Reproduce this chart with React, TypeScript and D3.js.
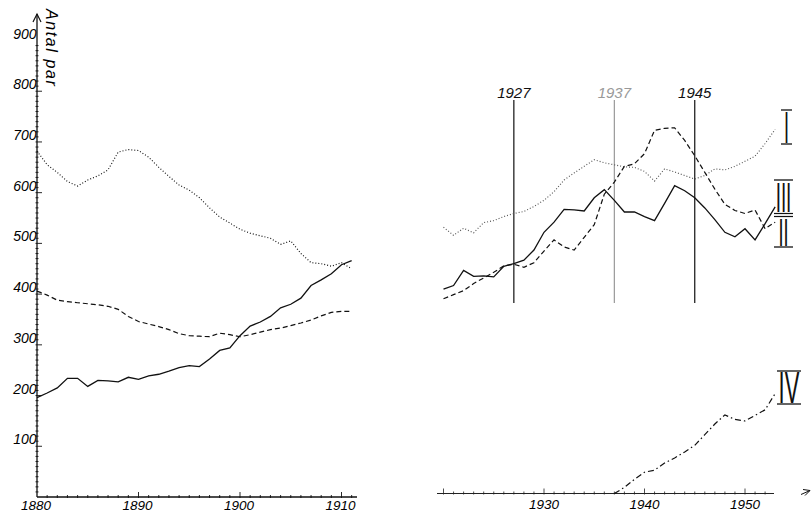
import React from "react";
import * as d3 from "d3";

const W = 811;
const H = 512;

// Left panel (1880–1911)
const leftYears = d3.range(1880, 1912);
const leftI = [682, 655, 640, 622, 613, 625, 633, 645, 680, 685, 683, 670, 650, 632, 615, 605, 590, 570, 552, 540, 528, 520, 515, 510, 498, 505, 480, 462, 460, 455, 462, 450];
const leftII = [196, 205, 215, 234, 234, 218, 230, 229, 227, 236, 232, 239, 242, 248, 255, 259, 257, 272, 289, 294, 318, 337, 345, 356, 373, 380, 392, 417, 428, 440, 458, 466];
const leftIII = [406, 398, 388, 385, 383, 381, 379, 376, 370, 356, 346, 341, 336, 330, 322, 318, 317, 316, 323, 320, 316, 320, 325, 330, 333, 338, 343, 349, 357, 364, 366, 366];

// Right panel (1920–1953)
const rightYears = d3.range(1920, 1954);
const rightI = [525, 509, 523, 514, 534, 538, 546, 552, 556, 566, 578, 595, 618, 632, 645, 658, 652, 648, 644, 643, 635, 616, 640, 634, 627, 620, 627, 640, 638, 645, 655, 665, 690, 718];
const rightII = [403, 410, 440, 428, 429, 427, 448, 453, 460, 480, 515, 535, 560, 559, 557, 583, 599, 578, 555, 555, 546, 538, 572, 607, 597, 583, 563, 540, 515, 506, 522, 500, 532, 565];
const rightIII = [384, 392, 400, 414, 425, 436, 449, 452, 446, 455, 478, 500, 486, 480, 505, 530, 590, 614, 645, 650, 670, 716, 720, 721, 696, 666, 633, 600, 570, 558, 552, 559, 522, 535];
const ivYears = d3.range(1937, 1954);
const rightIV = [0, 12, 28, 42, 46, 60, 70, 82, 95, 116, 137, 155, 146, 143, 154, 165, 197];

const yTicks = [100, 200, 300, 400, 500, 600, 700, 800, 900];
const leftXTicks = [1880, 1890, 1900, 1910];
const rightXTicks = [1930, 1940, 1950];
const markerYears = [1927, 1937, 1945];
const yTitle = "Antal par";

const xL = d3.scaleLinear().domain([1880, 1910]).range([37, 341.5]);
const yL = d3.scaleLinear().domain([0, 900]).range([497, 40.5]);
const xR = d3.scaleLinear().domain([1930, 1950]).range([544, 745]);
const yR = d3.scaleLinear().domain([0, 900]).range([493.5, 37]);

const numFont = "'Liberation Sans', 'DejaVu Sans', sans-serif";

function path(xs: number[], vs: number[], x: any, y: any) {
  return d3
    .line<number>()
    .x((_, i) => x(xs[i]))
    .y((v) => y(v))(vs) as string;
}

function Roman({ label, x, y, size, sx }: { label: string; x: number; y: number; size: number; sx: number }) {
  return (
    <text
      transform={`translate(${x},${y}) scale(${sx},1)`}
      textAnchor="middle"
      fontFamily="'Liberation Sans', sans-serif"
      fontSize={size}
      fill="#111"
    >
      {label}
    </text>
  );
}

export default function App() {
  const dotted = { fill: "none", stroke: "#111", strokeWidth: 1.15, strokeDasharray: "1 2" };
  const dashed = { fill: "none", stroke: "#111", strokeWidth: 1.2, strokeDasharray: "5 3" };
  const solid = { fill: "none", stroke: "#111", strokeWidth: 1.3 };
  const dashdot = { fill: "none", stroke: "#111", strokeWidth: 1.2, strokeDasharray: "6 3 1.5 3" };

  const axX = xL(1880);
  const minorY = d3.range(10, 900, 10);
  const minorXL = d3.range(1881, 1912);
  const minorXR = d3.range(1920, 1953);

  return (
    <svg width={W} height={H} style={{ position: "absolute", left: 0, top: 0, background: "#fff" }}>
      {/* Left y axis */}
      <line x1={axX} x2={axX} y1={yL(0)} y2={14} stroke="#111" strokeWidth={1.3} />
      <path d={`M${axX - 4},${22} L${axX},${14} L${axX + 4},${22}`} fill="none" stroke="#111" strokeWidth={1.2} />
      {minorY.map((v) => (
        <line key={"my" + v} x1={axX - 1.5} x2={axX + (v % 100 === 0 ? 5 : 1.5)} y1={yL(v)} y2={yL(v)} stroke="#111" strokeWidth={0.9} />
      ))}
      {yTicks.map((v) => (
        <text key={"yt" + v} x={axX - 0.5} y={yL(v) - 2} textAnchor="end" fontFamily={numFont} fontStyle="italic" fontSize={14} fill="#000">
          {v}
        </text>
      ))}
      <text
        transform={`translate(46,9) rotate(90)`}
        fontFamily={numFont}
        fontStyle="italic"
        fontSize={16}
        letterSpacing={1.6}
        fill="#000"
      >
        {yTitle}
      </text>

      {/* Left x axis */}
      <line x1={axX} x2={357} y1={yL(0)} y2={yL(0)} stroke="#111" strokeWidth={1.3} />
      {minorXL.map((yr) => (
        <line key={"mxl" + yr} x1={xL(yr)} x2={xL(yr)} y1={yL(0) + 1} y2={yL(0) - (yr % 10 === 0 ? 5 : 2)} stroke="#111" strokeWidth={0.9} />
      ))}
      {leftXTicks.map((yr) => (
        <text key={"xl" + yr} x={xL(yr) - 1} y={510} textAnchor="middle" fontFamily={numFont} fontStyle="italic" fontSize={13.5} fill="#000">
          {yr}
        </text>
      ))}

      {/* Left series */}
      <path d={path(leftYears, leftI, xL, yL)} {...dotted} />
      <path d={path(leftYears, leftIII, xL, yL)} {...dashed} />
      <path d={path(leftYears, leftII, xL, yL)} {...solid} />

      {/* Right x axis */}
      <line x1={437} x2={774} y1={yR(0)} y2={yR(0)} stroke="#222" strokeWidth={1.1} />
      {minorXR.map((yr) => (
        <line key={"mxr" + yr} x1={xR(yr)} x2={xR(yr)} y1={yR(0) + 1} y2={yR(0) - (yr % 10 === 0 ? 5 : 2)} stroke="#222" strokeWidth={0.8} />
      ))}
      <path d={`M801,${yR(0) + 1} L810,${yR(0) - 3} M803,${yR(0) - 4} L810,${yR(0) - 3} L805,${yR(0) + 2}`} fill="none" stroke="#111" strokeWidth={1} />
      {rightXTicks.map((yr) => (
        <text key={"xr" + yr} x={xR(yr)} y={509} textAnchor="middle" fontFamily={numFont} fontStyle="italic" fontSize={13.5} fill="#000">
          {yr}
        </text>
      ))}

      {/* Marker years */}
      {markerYears.map((yr) => {
        const c = yr === 1937 ? "#999" : "#111";
        return (
          <g key={"mk" + yr}>
            <line x1={xR(yr)} x2={xR(yr)} y1={100} y2={303} stroke={c} strokeWidth={1.2} />
            <text x={xR(yr)} y={98} textAnchor="middle" fontFamily={numFont} fontStyle="italic" fontSize={15} fill={c}>
              {yr}
            </text>
          </g>
        );
      })}

      {/* Right series */}
      <path d={path(rightYears, rightI, xR, yR)} {...dotted} stroke="#555" />
      <path d={path(rightYears, rightIII, xR, yR)} {...dashed} />
      <path d={path(rightYears, rightII, xR, yR)} {...solid} />
      <path d={path(ivYears, rightIV, xR, yR)} {...dashdot} />

      {/* Roman numeral labels */}
      <line x1={781} x2={792} y1={110} y2={110} stroke="#111" strokeWidth={1.3} />
      <line x1={781} x2={792} y1={144} y2={144} stroke="#111" strokeWidth={1.3} />
      <Roman label="I" x={786.5} y={143} size={45} sx={0.4} />

      <line x1={774} x2={793} y1={180} y2={180} stroke="#111" strokeWidth={1.3} />
      <Roman label="III" x={783.5} y={212} size={42} sx={0.45} />
      <line x1={774} x2={793} y1={213.5} y2={213.5} stroke="#111" strokeWidth={1.2} />
      <line x1={774} x2={793} y1={216.5} y2={216.5} stroke="#111" strokeWidth={1.2} />
      <Roman label="II" x={783.5} y={246} size={38} sx={0.48} />
      <line x1={774} x2={793} y1={247} y2={247} stroke="#111" strokeWidth={1.3} />

      <line x1={777} x2={801} y1={371} y2={371} stroke="#111" strokeWidth={1.3} />
      <Roman label="IV" x={789} y={403} size={44} sx={0.5} />
      <line x1={777} x2={801} y1={404} y2={404} stroke="#111" strokeWidth={1.3} />
    </svg>
  );
}
